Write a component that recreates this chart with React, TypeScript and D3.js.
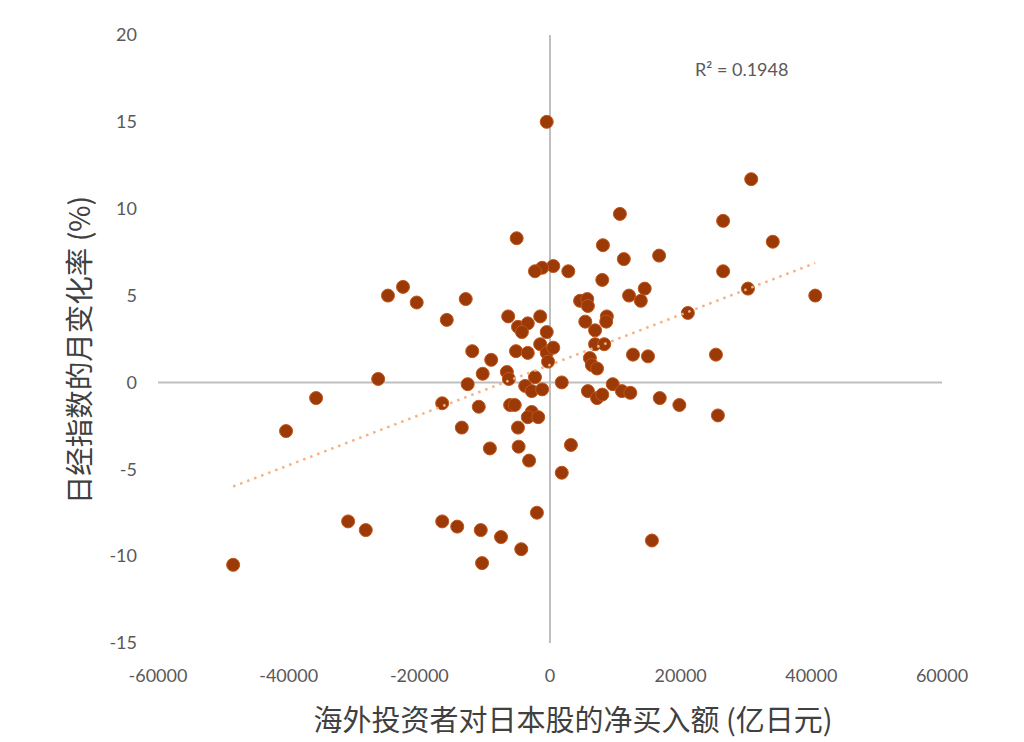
import * as d3 from 'd3';
import React from 'react';

// Net foreign buying of Japanese stocks (100M yen) vs monthly Nikkei change (%)
const netBuying = [
  -500, 30800, 10700, 26500, 34100, -5100, 8100, 16700, 11300, 500,
  -1200, -2300, 2800, 26500, 8000, 30300, 40600, -22500, -24800, -20400,
  -12900, 4600, 5700, 5800, 12100, 14500, 13900, 21100, -15800, -6400,
  -4900, -3400, -4300, -1500, -500, 5400, 8700, 8600, 6900, 6900,
  8300, -11900, -9000, -5200, -3400, -1500, -500, 500, -300, 6100,
  6400, 7200, 12700, 15000, 25400, -26300, -12600, -10300, -6600, -6300,
  -2300, 1800, 9600, -3800, -2800, -1200, 5800, 7200, 8000, 11000,
  12300, 16800, 19800, 25700, -35800, -16500, -10900, -6100, -5400, -2800,
  -3400, -1800, -40400, -13500, -4900, -4800, -9200, -3200, 3200, 1800,
  -2000, -30900, -28200, -16500, -14200, -10600, -7500, -4400, 15600, -48500,
  -10400,
];

const nikkeiChange = [
  15.0, 11.7, 9.7, 9.3, 8.1, 8.3, 7.9, 7.3, 7.1, 6.7,
  6.6, 6.4, 6.4, 6.4, 5.9, 5.4, 5.0, 5.5, 5.0, 4.6,
  4.8, 4.7, 4.8, 4.4, 5.0, 5.4, 4.7, 4.0, 3.6, 3.8,
  3.2, 3.4, 2.9, 3.8, 2.9, 3.5, 3.8, 3.5, 3.0, 2.2,
  2.2, 1.8, 1.3, 1.8, 1.7, 2.2, 1.7, 2.0, 1.2, 1.4,
  1.0, 0.8, 1.6, 1.5, 1.6, 0.2, -0.1, 0.5, 0.6, 0.2,
  0.3, 0.0, -0.1, -0.2, -0.5, -0.4, -0.5, -0.9, -0.7, -0.5,
  -0.6, -0.9, -1.3, -1.9, -0.9, -1.2, -1.4, -1.3, -1.3, -1.7,
  -2.0, -2.0, -2.8, -2.6, -2.6, -3.7, -3.8, -4.5, -3.6, -5.2,
  -7.5, -8.0, -8.5, -8.0, -8.3, -8.5, -8.9, -9.6, -9.1, -10.5,
  -10.4,
];

const xTicks = [-60000, -40000, -20000, 0, 20000, 40000, 60000];
const yTicks = [20, 15, 10, 5, 0, -5, -10, -15];
const rSquaredLabel = 'R² = 0.1948';
const xTitle = '海外投资者对日本股的净买入额 (亿日元)';
const yTitle = '日经指数的月变化率 (%)';

const width = 1024;
const height = 742;

export default function App() {
  const x = d3.scaleLinear().domain([-60000, 60000]).range([158, 942]);
  const y = d3.scaleLinear().domain([-15, 20]).range([643, 35]);

  const points = netBuying.map((v, i) => ({ x: v, y: nikkeiChange[i] }));

  // least-squares trendline over the data extent
  const mx = d3.mean(points, d => d.x) || 0;
  const my = d3.mean(points, d => d.y) || 0;
  const sxy = d3.sum(points, d => (d.x - mx) * (d.y - my));
  const sxx = d3.sum(points, d => (d.x - mx) ** 2);
  const slope = sxy / sxx;
  const intercept = my - slope * mx;
  const [xmin, xmax] = d3.extent(points, d => d.x) as [number, number];
  const trend = d3
    .line<number>()
    .x(d => x(d))
    .y(d => y(slope * d + intercept))([xmin, xmax]);

  const tickFont = 'Lato, "Noto Sans", sans-serif';
  const titleFont = '"Noto Sans CJK SC", sans-serif';

  return (
    <svg
      width={width}
      height={height}
      style={{ position: 'absolute', left: 0, top: 0, background: '#fff' }}
    >
      {/* zero lines */}
      <line x1={x(-60000)} x2={x(60000)} y1={y(0)} y2={y(0)} stroke="#bfbfbf" strokeWidth={2} />
      <line x1={x(0)} x2={x(0)} y1={y(20)} y2={y(-15)} stroke="#bfbfbf" strokeWidth={2} />

      {/* tick labels */}
      {yTicks.map(t => (
        <text
          key={'y' + t}
          x={137}
          y={y(t)}
          dy="0.35em"
          textAnchor="end"
          fontFamily={tickFont}
          fontSize={18}
          fill="#595959"
        >
          {t}
        </text>
      ))}
      {xTicks.map(t => (
        <text
          key={'x' + t}
          x={x(t)}
          y={676}
          dy="0.35em"
          textAnchor="middle"
          fontFamily={tickFont}
          fontSize={18}
          fill="#595959"
        >
          {t}
        </text>
      ))}

      {/* points */}
      {points.map((d, i) => (
        <circle
          key={i}
          cx={x(d.x)}
          cy={y(d.y)}
          r={6.5}
          fill="#9b3a07"
          stroke="#c0561c"
          strokeWidth={1}
        />
      ))}

      {/* trendline */}
      <path
        d={trend || ''}
        fill="none"
        stroke="#f4b183"
        strokeWidth={2.5}
        strokeDasharray="2.5 5"
      />

      <text x={695} y={70} dy="0.35em" fontFamily={tickFont} fontSize={18} fill="#595959">
        {rSquaredLabel}
      </text>

      {/* axis titles */}
      <text
        x={573}
        y={721}
        dy="0.35em"
        textAnchor="middle"
        fontFamily={titleFont}
        fontSize={29}
        fill="#404040"
      >
        {xTitle}
      </text>
      <text
        transform={`translate(80,350) rotate(-90)`}
        dy="0.35em"
        textAnchor="middle"
        fontFamily={titleFont}
        fontSize={28.5}
        fill="#404040"
      >
        {yTitle}
      </text>
    </svg>
  );
}
